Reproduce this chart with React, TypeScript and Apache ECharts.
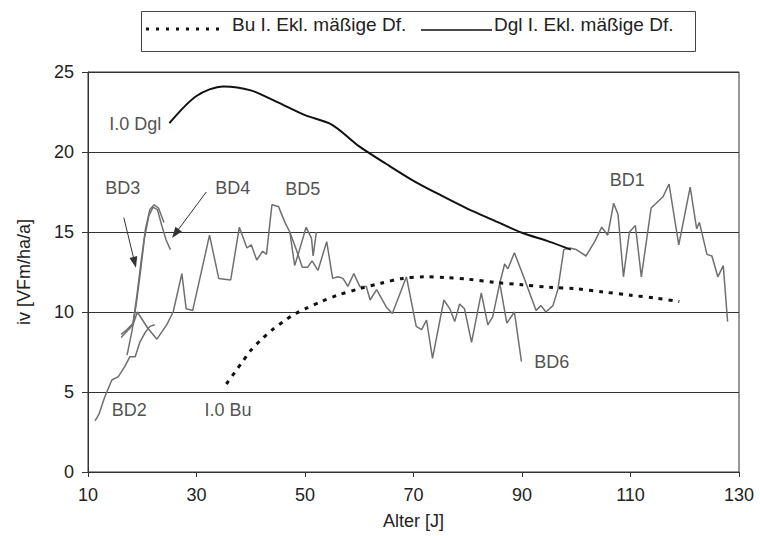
import React, { useEffect, useRef } from "react";
import * as echarts from "echarts";

// ---- data (age [years], increment iv [VFm/ha/a]) ----
const xTicks = [10, 30, 50, 70, 90, 110, 130];
const yTicks = [0, 5, 10, 15, 20, 25];

const dglI0: [number, number][] = [
  [25, 21.8], [30, 23.5], [35, 24.1], [40, 23.85], [45, 23.1], [50, 22.3], [55, 21.7],
  [60, 20.35], [65, 19.25], [70, 18.2], [75, 17.3], [80, 16.45], [85, 15.7], [90, 14.95],
  [95, 14.4], [99, 13.9],
];

const buI0: [number, number][] = [
  [35.5, 5.5], [37, 6.2], [38.5, 6.9], [40, 7.6], [42, 8.3], [44, 8.9], [46, 9.4], [48, 9.85],
  [50, 10.2], [53, 10.65], [56, 11.05], [60, 11.45], [64, 11.8], [68, 12.1], [72, 12.2],
  [76, 12.15], [80, 12.05], [85, 11.85], [90, 11.7], [95, 11.55], [100, 11.45], [105, 11.25],
  [110, 11.05], [115, 10.85], [119, 10.65],
];

const bd1: [number, number][] = [
  [85.9, 11.8], [86.8, 13.0], [87.4, 12.7], [88.6, 13.7], [90.2, 12.3], [92.6, 10.1], [93.5, 10.4],
  [94.4, 10.0], [95.7, 10.4], [96.6, 11.4], [97.7, 13.9], [98.8, 14.0], [100, 13.9], [101.8, 13.5],
  [103.4, 14.4], [104.7, 15.3], [105.8, 14.8], [106.9, 16.8], [107.7, 16.1], [108.7, 12.2],
  [109.8, 15.0], [110.9, 15.4], [112.0, 12.2], [113.8, 16.5], [116.0, 17.2], [117.1, 18.0],
  [118.9, 14.2], [121.0, 17.8], [122.2, 15.2], [122.7, 15.6], [124.1, 13.6], [125.0, 13.5],
  [126.1, 12.2], [127.1, 12.9], [127.9, 9.4],
];

const bd2: [number, number][] = [
  [11.3, 3.2], [12.0, 3.6], [13.1, 4.7], [14.4, 5.75], [15.6, 5.96], [16.8, 6.6], [17.7, 7.2],
  [18.7, 7.2], [19.6, 8.15], [20.5, 8.7], [21.4, 9.1], [22.3, 9.2],
];

const bd3: [number, number][] = [
  [16.1, 8.6], [17.2, 8.9], [18.3, 9.3], [19.0, 11.0], [19.8, 13.2], [20.6, 15.2], [21.4, 16.4],
  [22.2, 16.7], [23.0, 16.5], [24.0, 15.6],
];

const bd4: [number, number][] = [
  [17.2, 7.3], [18.1, 8.8], [18.9, 10.5], [19.7, 12.6], [20.4, 14.6], [21.2, 16.0], [22.0, 16.55],
  [22.8, 16.4], [23.6, 15.4], [24.4, 14.5], [25.2, 13.9],
];

const bd5: [number, number][] = [
  [16.1, 8.4], [18.3, 9.2], [19.1, 10.0], [21.0, 9.0], [22.7, 8.3], [24.5, 9.2], [25.7, 10.0],
  [27.3, 12.4], [28.1, 10.2], [29.3, 10.1], [32.4, 14.8], [34.1, 12.1], [36.3, 12.0], [37.9, 15.3],
  [39.3, 14.0], [40.1, 14.2], [41.1, 13.25], [42.2, 13.8], [42.9, 13.6], [43.9, 16.7], [45.1, 16.6],
  [46.3, 15.6], [47.2, 15.0], [48.1, 12.9], [49.0, 13.9], [50.2, 15.3], [51.2, 14.6], [51.5, 13.5],
  [52.1, 15.0],
];

const bd6: [number, number][] = [
  [47.2, 15.0], [48.5, 13.8], [49.5, 12.8], [50.5, 12.8], [51.3, 13.2], [52.4, 12.6], [54.0, 14.4],
  [55.1, 12.1], [56.1, 12.2], [57.0, 12.1], [57.9, 11.6], [59.0, 12.4], [60.1, 11.6], [61.3, 11.6],
  [62.0, 10.75], [63.2, 11.4], [65.0, 10.3], [66.1, 9.9], [68.7, 12.2], [70.5, 9.1], [71.5, 8.9],
  [72.4, 9.5], [73.5, 7.1], [75.6, 10.75], [76.7, 10.2], [77.6, 9.4], [78.5, 10.5], [79.4, 10.2],
  [80.7, 8.1], [82.5, 11.2], [83.7, 9.2], [84.6, 9.7], [85.9, 11.8], [87.2, 9.3], [88.6, 10.0],
  [89.9, 6.9],
];

const annotationNames = ["I.0 Dgl", "BD3", "BD4", "BD5", "BD1", "BD6", "BD2", "I.0 Bu"];
const annotationAnchors: [number, number][] = [
  [18.7, 21.75], [16.4, 17.75], [36.7, 17.75], [49.6, 17.7], [109.4, 18.25], [95.5, 6.9],
  [17.6, 3.9], [35.8, 3.9],
];
const arrowFrom: [number, number][] = [[16.6, 15.9], [31.8, 17.5]];
const arrowTo: [number, number][] = [[18.6, 13.1], [26.1, 14.9]];

const legendBu = "Bu I. Ekl. mäßige Df.";
const legendDgl = "Dgl I. Ekl. mäßige Df.";

const FONT = "'Liberation Sans', Arial, Helvetica, sans-serif";

export default function App() {
  const ref = useRef<HTMLDivElement>(null);

  useEffect(() => {
    document.body.style.margin = "0";
    if (!ref.current) return;
    const chart = echarts.init(ref.current, null, { renderer: "svg" });

    const bdLine = (name: string, data: [number, number][]) => ({
      name,
      type: "line",
      data,
      symbol: "none",
      showSymbol: false,
      silent: true,
      z: 2,
      lineStyle: { color: "#6f6f6f", width: 1.5 },
    });

    chart.setOption({
      animation: false,
      backgroundColor: "#ffffff",
      textStyle: { fontFamily: FONT },
      grid: {
        left: 88,
        right: 21,
        top: 72,
        bottom: 64,
        show: true,
        borderColor: "#333",
        borderWidth: 1,
        backgroundColor: "transparent",
      },
      xAxis: {
        type: "value",
        min: xTicks[0],
        max: xTicks[xTicks.length - 1],
        interval: xTicks[1] - xTicks[0],
        name: "Alter [J]",
        nameLocation: "middle",
        nameGap: 40,
        nameTextStyle: { fontSize: 18, color: "#222", fontFamily: FONT },
        axisLine: { show: true, lineStyle: { color: "#333", width: 1 } },
        axisTick: { show: true, length: 5, lineStyle: { color: "#333" } },
        axisLabel: { fontSize: 18, color: "#222", margin: 14, fontFamily: FONT },
        splitLine: { show: false },
      },
      yAxis: {
        type: "value",
        min: yTicks[0],
        max: yTicks[yTicks.length - 1],
        interval: yTicks[1] - yTicks[0],
        name: "iv [VFm/ha/a]",
        nameLocation: "middle",
        nameGap: 55,
        nameTextStyle: { fontSize: 18, color: "#222", fontFamily: FONT },
        axisLine: { show: true, lineStyle: { color: "#333", width: 1 } },
        axisTick: { show: true, length: 6, lineStyle: { color: "#333" } },
        axisLabel: { fontSize: 18, color: "#222", margin: 14, fontFamily: FONT },
        splitLine: { show: true, lineStyle: { color: "#333", width: 1 } },
      },
      series: [
        bdLine("BD1", bd1),
        bdLine("BD2", bd2),
        bdLine("BD3", bd3),
        bdLine("BD4", bd4),
        bdLine("BD5", bd5),
        bdLine("BD6", bd6),
        {
          name: legendBu,
          type: "line",
          data: buI0,
          symbol: "none",
          smooth: 0.3,
          silent: true,
          z: 3,
          lineStyle: { color: "#111", width: 3, type: [4, 6], cap: "butt" },
        },
        {
          name: legendDgl,
          type: "line",
          data: dglI0,
          symbol: "none",
          smooth: 0.3,
          silent: true,
          z: 3,
          lineStyle: { color: "#111", width: 2 },
        },
        {
          name: "annotations",
          type: "scatter",
          silent: true,
          z: 5,
          symbolSize: 0,
          data: annotationAnchors.map((p, i) => ({ value: p, name: annotationNames[i] })),
          label: {
            show: true,
            position: "inside",
            formatter: "{b}",
            fontSize: 18,
            color: "#222",
            fontFamily: FONT,
          },
          markLine: {
            silent: true,
            symbol: ["none", "triangle"],
            symbolSize: [8, 11],
            label: { show: false },
            lineStyle: { color: "#333", width: 1, type: "solid" },
            data: arrowFrom.map((f, i) => [{ coord: f }, { coord: arrowTo[i] }]),
          },
        },
      ],
      graphic: [
        {
          type: "rect",
          shape: { x: 141.5, y: 11.5, width: 554, height: 40 },
          style: { fill: "none", stroke: "#444", lineWidth: 1 },
          silent: true,
        },
        {
          type: "line",
          shape: { x1: 146, y1: 29, x2: 221, y2: 29 },
          style: { stroke: "#111", lineWidth: 3, lineDash: [3, 7] },
          silent: true,
        },
        {
          type: "text",
          x: 232,
          y: 24,
          style: {
            text: legendBu,
            font: `19px ${FONT}`,
            fill: "#222",
            verticalAlign: "middle",
            align: "left",
          },
          silent: true,
        },
        {
          type: "line",
          shape: { x1: 421, y1: 30, x2: 492, y2: 30 },
          style: { stroke: "#111", lineWidth: 1.5 },
          silent: true,
        },
        {
          type: "text",
          x: 494,
          y: 24,
          style: {
            text: legendDgl,
            font: `19px ${FONT}`,
            fill: "#222",
            verticalAlign: "middle",
            align: "left",
          },
          silent: true,
        },
      ],
    });

    return () => chart.dispose();
  }, []);

  return (
    <div
      ref={ref}
      style={{ position: "absolute", left: 0, top: 0, width: 760, height: 536, background: "#fff" }}
    />
  );
}
